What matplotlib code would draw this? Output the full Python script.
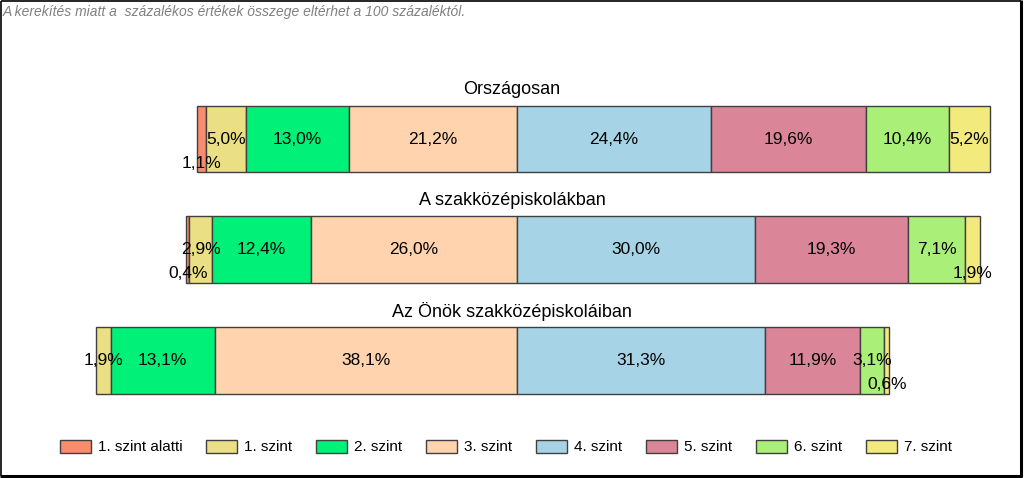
import matplotlib
matplotlib.use("Agg")
import matplotlib.pyplot as plt
from matplotlib.patches import Patch
from matplotlib.lines import Line2D

plt.rcParams['font.family'] = ['Liberation Sans', 'DejaVu Sans']

groups = ["Országosan", "A szakközépiskolákban", "Az Önök szakközépiskoláiban"]
levels = ["1. szint alatti", "1. szint", "2. szint", "3. szint",
          "4. szint", "5. szint", "6. szint", "7. szint"]
orszagosan = [1.1, 5.0, 13.0, 21.2, 24.4, 19.6, 10.4, 5.2]
szakkozep = [0.4, 2.9, 12.4, 26.0, 30.0, 19.3, 7.1, 1.9]
onok = [0.0, 1.9, 13.1, 38.1, 31.3, 11.9, 3.1, 0.6]
values = [orszagosan, szakkozep, onok]
note = "A kerekítés miatt a  százalékos értékek összege eltérhet a 100 százaléktól."

colors = ["#FA8C6E", "#EADF84", "#00F078", "#FFD3AD",
          "#A6D4E6", "#DA8598", "#AAF078", "#F2EA7C"]
# labels drawn lower inside the bar (group index, level index)
lowered = {(0, 0), (1, 0), (1, 7), (2, 7)}

W, H = 1024, 478
fig = plt.figure(figsize=(W / 100, H / 100), dpi=100)
ax = fig.add_axes([0, 0, 1, 1])
scale = 7.935   # px per percent
center_px = 517.1
row_px = 110.7
row0_px = 139.0
ax.set_xlim(-center_px / scale, (W - center_px) / scale)
ax.set_ylim((H - row0_px) / row_px, -row0_px / row_px)
ax.axis('off')
xmid = 0.5 * (ax.get_xlim()[0] + ax.get_xlim()[1])

bar_h = 0.6
for gi, vals in enumerate(values):
    left = -sum(vals[:4])
    for li, v in enumerate(vals):
        if v > 0:
            ax.barh(gi, v, left=left, height=bar_h, color=colors[li],
                    edgecolor="#404040", linewidth=1.0)
            ytxt = gi + (0.217 if (gi, li) in lowered else 0.0)
            ax.text(left + v / 2, ytxt, f"{v:.1f}%".replace('.', ','),
                    ha='center', va='center', fontsize=12.5, color='black')
        left += v
    ax.text(xmid, gi - 0.445, groups[gi],
            ha='center', va='center', fontsize=13, color='black')

handles = [Patch(facecolor=c, edgecolor="#404040", linewidth=1.0) for c in colors]
fig.legend(handles, levels, ncol=8, loc='center', bbox_to_anchor=(506 / W, 1 - 447 / H),
           frameon=False, fontsize=11, handlelength=2.05, handleheight=0.95,
           handletextpad=0.45, columnspacing=1.55)

fig.text(3 / W, 1 - 12 / H, note, ha='left', va='center', fontsize=10,
         style='italic', color='#808080')

# frame: thin top/left, thicker bottom/right
def px(x, y):
    return x / W, 1 - y / H

for (x0, y0), (x1, y1), lw in [((0.5, 0.5), (1021, 0.5), 1.2),
                               ((0.5, 0.5), (0.5, 476), 1.2),
                               ((1021, 0), (1021, 476.5), 2.2),
                               ((0, 476), (1022, 476), 2.2)]:
    a, b = px(x0, y0)
    c, d = px(x1, y1)
    fig.add_artist(Line2D([a, c], [b, d], transform=fig.transFigure,
                          color='black', linewidth=lw, solid_capstyle='butt'))

fig.savefig("out.png", dpi=100)
